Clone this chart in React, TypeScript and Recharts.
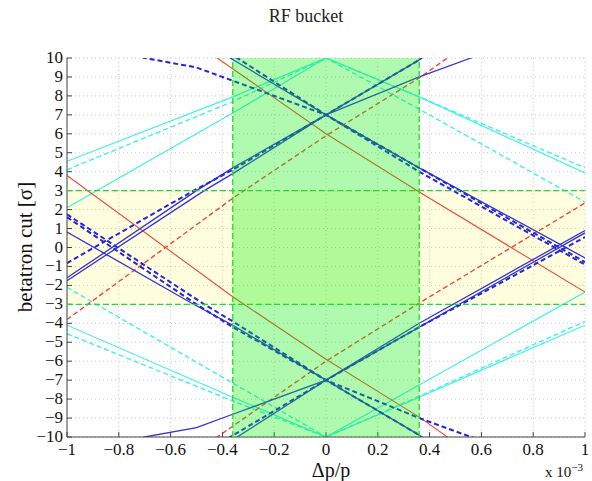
import { LineChart, Line, XAxis, YAxis, CartesianGrid, ReferenceArea, ReferenceLine } from 'recharts'

type Pt = { x: number; y: number }

// axis ticks (Δp/p in units of 1e-3, betatron cut in σ)
const X_TICKS = [-1, -0.8, -0.6, -0.4, -0.2, 0, 0.2, 0.4, 0.6, 0.8, 1]
const Y_TICKS = [-10, -9, -8, -7, -6, -5, -4, -3, -2, -1, 0, 1, 2, 3, 4, 5, 6, 7, 8, 9, 10]

// RF bucket acceptance and the ±3σ cut
const BUCKET = [-0.36, 0.36]
const CUT = [-3, 3]

// red
const RED_SOLID: Pt[][] = [
  [{ x: -1, y: 3.8 }, { x: -0.36, y: -2.6 }, { x: 0, y: -5.9 }, { x: 0.36, y: -8.95 }, { x: 0.5, y: -10.3 }],
  [{ x: -0.5, y: 10.8 }, { x: -0.42, y: 10 }, { x: 0, y: 6 }, { x: 0.36, y: 2.93 }, { x: 1, y: -2.35 }],
]
const RED_DASHED: Pt[][] = [
  [{ x: -1, y: -3.8 }, { x: -0.36, y: 2.6 }, { x: 0, y: 5.9 }, { x: 0.36, y: 8.95 }, { x: 0.5, y: 10.3 }],
  [{ x: -0.5, y: -10.8 }, { x: -0.42, y: -10 }, { x: 0, y: -6 }, { x: 0.36, y: -2.93 }, { x: 1, y: 2.35 }],
]

// cyan
const CYAN_SOLID: Pt[][] = [
  [{ x: -1, y: 4.55 }, { x: -0.36, y: 7.95 }, { x: 0, y: 10 }, { x: 0.36, y: 7.95 }, { x: 1, y: 3.93 }],
  [{ x: -1, y: 2.1 }, { x: -0.36, y: 7.1 }, { x: 0, y: 10 }],
  [{ x: -1, y: -4.1 }, { x: -0.36, y: -7.9 }, { x: 0, y: -10 }, { x: 0.36, y: -7.26 }, { x: 1, y: -2.35 }],
  [{ x: 0, y: -10 }, { x: 0.36, y: -7.9 }, { x: 1, y: -4.1 }],
]
const CYAN_DASHED: Pt[][] = [
  [{ x: -1, y: -4.55 }, { x: -0.36, y: -8.1 }, { x: 0, y: -10 }, { x: 0.36, y: -7.85 }, { x: 1, y: -3.9 }],
  [{ x: -1, y: -2.1 }, { x: -0.36, y: -7.15 }, { x: 0, y: -10 }],
  [{ x: -1, y: 4.1 }, { x: -0.36, y: 7.7 }, { x: 0, y: 10 }, { x: 0.36, y: 7.3 }, { x: 1, y: 2.4 }],
  [{ x: 0, y: 10 }, { x: 0.36, y: 7.95 }, { x: 1, y: 4.2 }],
]

// blue
const BLUE_SOLID: Pt[][] = [
  [{ x: -1, y: -1.6 }, { x: -0.5, y: 3.0 }, { x: -0.36, y: 4.2 }, { x: 0, y: 7 }, { x: 0.36, y: 9.9 }, { x: 0.4, y: 10.4 }],
  [{ x: -1, y: -1.75 }, { x: -0.47, y: 3.0 }, { x: -0.36, y: 3.9 }, { x: 0, y: 7 }, { x: 0.36, y: 9.0 }, { x: 0.56, y: 10 }, { x: 0.7, y: 10.6 }],
  [{ x: -1, y: 0.82 }, { x: -0.52, y: -2.93 }, { x: -0.36, y: -4.1 }, { x: 0, y: -7 }, { x: 0.36, y: -9.9 }, { x: 0.4, y: -10.4 }],
  [{ x: -0.8, y: -10.4 }, { x: -0.7, y: -10 }, { x: -0.5, y: -9.5 }, { x: -0.36, y: -8.8 }, { x: 0, y: -7 }, { x: 0.36, y: -4.2 }, { x: 0.63, y: -2.1 }, { x: 1, y: 0.77 }],
  [{ x: -0.4, y: 10.4 }, { x: -0.37, y: 10 }, { x: 0, y: 7 }, { x: 0.36, y: 4.2 }, { x: 1, y: -0.55 }],
  [{ x: -0.4, y: -10.5 }, { x: 0, y: -7 }, { x: 0.36, y: -4.0 }, { x: 1, y: 0.9 }],
]
const BLUE_DASHED: Pt[][] = [
  [{ x: -1, y: 1.6 }, { x: -0.5, y: -3.0 }, { x: -0.36, y: -4.2 }, { x: 0, y: -7 }, { x: 0.36, y: -9.9 }, { x: 0.4, y: -10.4 }],
  [{ x: -1, y: 1.75 }, { x: -0.47, y: -3.0 }, { x: -0.36, y: -3.9 }, { x: 0, y: -7 }, { x: 0.36, y: -9.0 }, { x: 0.56, y: -10 }, { x: 0.7, y: -10.6 }],
  [{ x: -1, y: -0.82 }, { x: -0.52, y: 2.93 }, { x: -0.36, y: 4.1 }, { x: 0, y: 7 }, { x: 0.36, y: 9.9 }, { x: 0.4, y: 10.4 }],
  [{ x: -0.8, y: 10.4 }, { x: -0.7, y: 10 }, { x: -0.5, y: 9.5 }, { x: -0.36, y: 8.8 }, { x: 0, y: 7 }, { x: 0.36, y: 4.2 }, { x: 0.63, y: 2.1 }, { x: 1, y: -0.77 }],
  [{ x: -0.4, y: -10.4 }, { x: -0.37, y: -10 }, { x: 0, y: -7 }, { x: 0.36, y: -4.2 }, { x: 1, y: 0.55 }],
  [{ x: -0.4, y: 10.5 }, { x: 0, y: 7 }, { x: 0.36, y: 4.0 }, { x: 1, y: -0.9 }],
]

const FONT = 'Liberation Serif'
const fmt = (v: number) => (v < 0 ? '\u2212' + Math.abs(v) : String(v))

const series = [
  ...CYAN_SOLID.map((d) => ({ d, color: '#3ff0f0', w: 1.2, dash: undefined })),
  ...CYAN_DASHED.map((d) => ({ d, color: '#3ff0f0', w: 1.4, dash: '5 3' })),
  ...RED_SOLID.map((d) => ({ d, color: '#f04836', w: 1.1, dash: undefined })),
  ...RED_DASHED.map((d) => ({ d, color: '#f04836', w: 1.4, dash: '5 3' })),
  ...BLUE_SOLID.map((d) => ({ d, color: '#3232dc', w: 1.3, dash: undefined })),
  ...BLUE_DASHED.map((d) => ({ d, color: '#2424e0', w: 2, dash: '5 3' })),
]

function XTick({ x, y, payload }: any) {
  return (
    <text x={x} y={y + 15} textAnchor="middle" fill="#111" fontFamily={FONT} fontSize={17}>
      {fmt(payload.value)}
    </text>
  )
}

function YTick({ x, y, payload }: any) {
  return (
    <text x={x} y={y + 5} textAnchor="end" fill="#111" fontFamily={FONT} fontSize={17}>
      {fmt(payload.value)}
    </text>
  )
}

export default function App() {
  return (
    <div style={{ position: 'absolute', left: 0, top: 0, width: 592, height: 481, fontFamily: FONT, background: '#fff' }}>
      <LineChart width={592} height={481} margin={{ top: 58, right: 7, bottom: 0, left: 0 }}>
        <CartesianGrid stroke="#c8c8c8" strokeDasharray="1 3" />
        <ReferenceArea x1={-1} x2={1} y1={CUT[0]} y2={CUT[1]} fill="#ffff00" fillOpacity={0.12} stroke="none" />
        <XAxis
          dataKey="x"
          type="number"
          domain={[-1, 1]}
          ticks={X_TICKS}
          allowDataOverflow
          height={44}
          tickSize={-5}
          tickMargin={8}
          stroke="#444"
          tick={<XTick />}
        />
        <XAxis
          xAxisId="top"
          orientation="top"
          type="number"
          domain={[-1, 1]}
          ticks={X_TICKS}
          allowDataOverflow
          height={0}
          tickSize={-5}
          tick={false}
          stroke="#444"
        />
        <YAxis
          type="number"
          domain={[-10, 10]}
          ticks={Y_TICKS}
          allowDataOverflow
          interval={0}
          width={67}
          tickSize={-5}
          tickMargin={9}
          stroke="#444"
          tick={<YTick />}
        />
        <YAxis
          yAxisId="right"
          orientation="right"
          type="number"
          domain={[-10, 10]}
          ticks={Y_TICKS}
          allowDataOverflow
          width={0}
          tickSize={-5}
          tick={false}
          stroke="#444"
        />
        {series.map((s, i) => (
          <Line
            key={i}
            data={s.d}
            dataKey="y"
            stroke={s.color}
            strokeWidth={s.w}
            strokeDasharray={s.dash}
            dot={false}
            activeDot={false}
            isAnimationActive={false}
          />
        ))}
        <ReferenceArea x1={BUCKET[0]} x2={BUCKET[1]} y1={-10} y2={10} fill="#00f000" fillOpacity={0.31} stroke="none" zIndex={1200} />
        <ReferenceLine y={CUT[0]} stroke="#22dd22" strokeWidth={1.3} strokeDasharray="6 3" zIndex={1200} />
        <ReferenceLine y={CUT[1]} stroke="#22dd22" strokeWidth={1.3} strokeDasharray="6 3" zIndex={1200} />
        <ReferenceLine x={BUCKET[0]} stroke="#22dd22" strokeWidth={1.3} strokeDasharray="6 3" zIndex={1200} />
        <ReferenceLine x={BUCKET[1]} stroke="#22dd22" strokeWidth={1.3} strokeDasharray="6 3" zIndex={1200} />
      </LineChart>
      <div style={{ position: 'absolute', left: 306, top: 16, transform: 'translate(-50%, -50%)', fontSize: 18, lineHeight: 1, whiteSpace: 'nowrap', color: '#222' }}>
        RF bucket
      </div>
      <div style={{ position: 'absolute', left: 25, top: 247, transform: 'translate(-50%, -50%) rotate(-90deg)', fontSize: 21, lineHeight: 1, whiteSpace: 'nowrap', color: '#111' }}>
        betatron cut [σ]
      </div>
      <div style={{ position: 'absolute', left: 331, top: 470, transform: 'translate(-50%, -50%)', fontSize: 20, lineHeight: 1, whiteSpace: 'nowrap', color: '#111' }}>
        Δp/p
      </div>
      <div style={{ position: 'absolute', left: 545, top: 462, fontSize: 15, lineHeight: 1, whiteSpace: 'nowrap', color: '#111' }}>
        x 10<sup style={{ fontSize: 11, verticalAlign: 6 }}>−3</sup>
      </div>
    </div>
  )
}
